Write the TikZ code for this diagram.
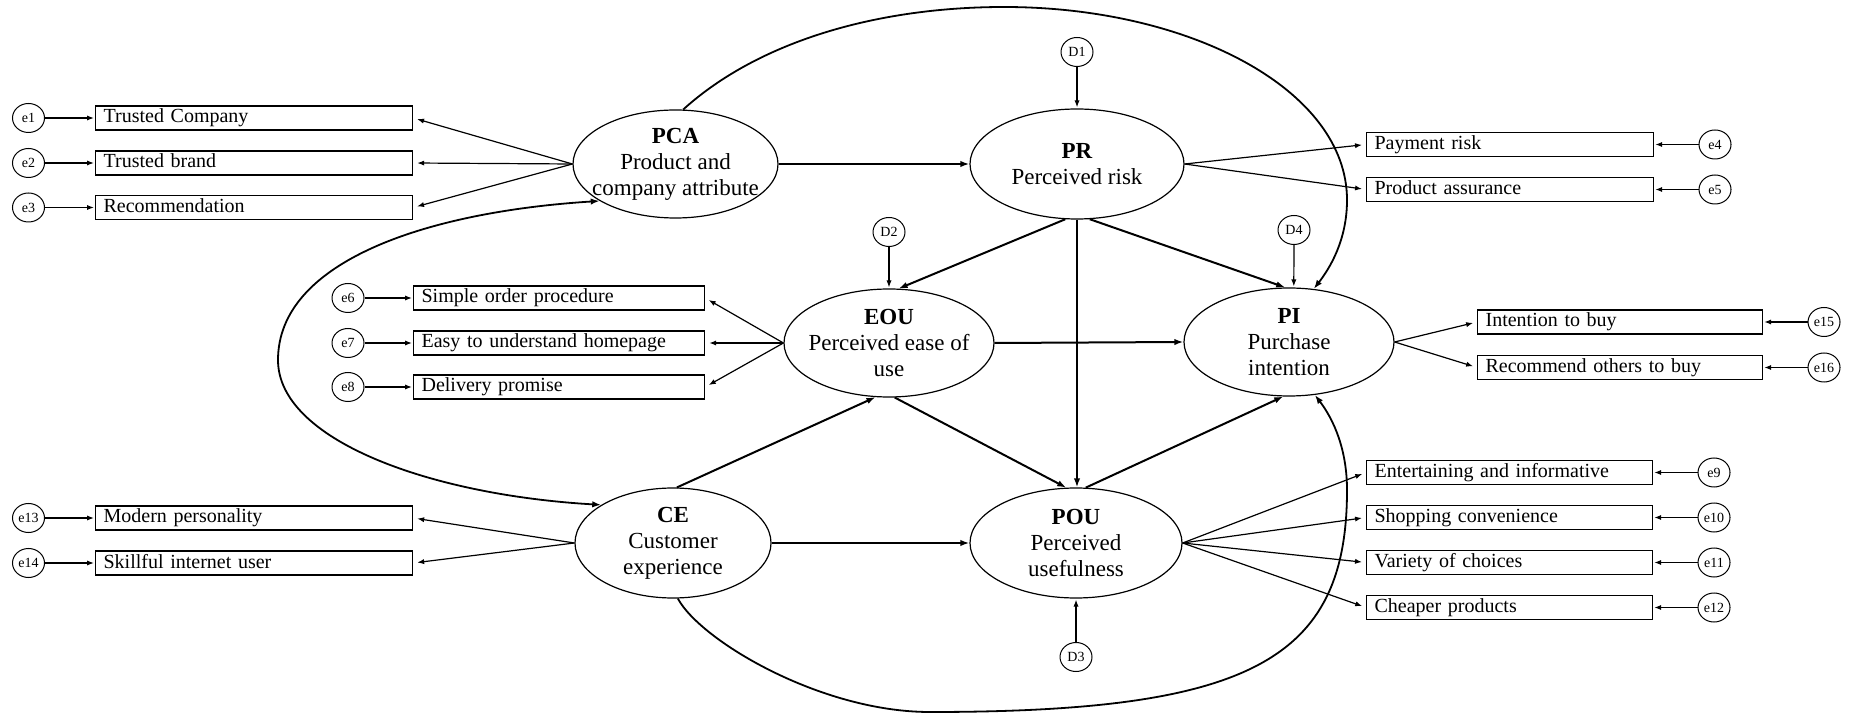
\documentclass[tikz,border=0pt]{standalone}
\usepackage{fontspec}
\setmainfont{Liberation Serif}
\usetikzlibrary{arrows.meta,shapes.geometric}
\begin{document}
\begin{tikzpicture}[x=0.5pt,y=-0.5pt,
  latent/.style={draw, ellipse, inner sep=0pt, line width=0.6pt},
  lattext/.style={align=center, font=\fontsize{11.5}{13}\selectfont, inner sep=0pt},
  ind/.style={draw, rectangle, line width=0.6pt, minimum height=12pt,
    inner ysep=0pt, inner xsep=4pt, align=left, text width=#1,
    text height=7pt, text depth=2pt,
    font=\fontsize{10}{12}\selectfont, anchor=west},
  err/.style={draw, ellipse, minimum width=16pt, minimum height=14.5pt,
    inner sep=0pt, line width=0.5pt, font=\fontsize{7}{8}\selectfont},
  load/.style={line width=0.6pt, -{Latex[length=3.5pt,width=2.6pt]}, shorten >=2pt},
  erra/.style={line width=0.6pt, -{Latex[length=3.5pt,width=2.6pt]}, shorten >=0.5pt},
  path/.style={line width=1pt, -{Latex[length=4.5pt,width=3.2pt]}},
  cov/.style={line width=0.9pt},
  tip/.style={-{Latex[length=4.5pt,width=3.2pt]}},
]
\useasboundingbox (0,0) rectangle (1856,715);

% latent constructs
\node[latent, minimum width=102.5pt, minimum height=54pt] (PCA) at (675.5,164) {};
\node[lattext] (PCAt) at (PCA) {\textbf{PCA}\\Product and\\company attribute};
\node[latent, minimum width=107pt, minimum height=55pt] (PR) at (1077,164) {};
\node[lattext] (PRt) at (PR) {\textbf{PR}\\Perceived risk};
\node[latent, minimum width=105pt, minimum height=54pt] (EOU) at (889,343) {};
\node[lattext] (EOUt) at (EOU) {\textbf{EOU}\\Perceived ease of\\use};
\node[latent, minimum width=105pt, minimum height=54pt] (PI) at (1289,342) {};
\node[lattext] (PIt) at (PI) {\textbf{PI}\\Purchase\\intention};
\node[latent, minimum width=98pt, minimum height=55pt] (CE) at (673,543) {};
\node[lattext] (CEt) at (CE) {\textbf{CE}\\Customer\\experience};
\node[latent, minimum width=106pt, minimum height=55pt] (POU) at (1076,543) {};
\node[lattext] (POUt) at (POU) {\textbf{POU}\\Perceived\\usefulness};

% disturbances
\node[err] (D1) at (1077,52) {D1};
\node[err] (D2) at (889,232) {D2};
\node[err] (D4) at (1294,230) {D4};
\node[err] (D3) at (1076,657) {D3};

% indicators of PCA
\node[ind=150.5pt] (tc)  at (95,118)   {Trusted Company};
\node[ind=150.5pt] (tb)  at (95,163)   {Trusted brand};
\node[ind=150.5pt] (rec) at (95,207.5) {Recommendation};
\node[err] (e1) at (28.5,118)   {e1};
\node[err] (e2) at (28.5,163)   {e2};
\node[err] (e3) at (28.5,207.5) {e3};

% indicators of CE
\node[ind=150.5pt] (mp) at (95,518) {Modern personality};
\node[ind=150.5pt] (si) at (95,563) {Skillful internet user};
\node[err] (e13) at (28.5,518) {e13};
\node[err] (e14) at (28.5,563) {e14};

% indicators of EOU
\node[ind=137.5pt] (so) at (413,298) {Simple order procedure};
\node[ind=137.5pt] (eh) at (413,343) {Easy to understand homepage};
\node[ind=137.5pt] (dp) at (413,387) {Delivery promise};
\node[err] (e6) at (348,298) {e6};
\node[err] (e7) at (348,343) {e7};
\node[err] (e8) at (348,387) {e8};

% indicators of PR
\node[ind=135.5pt] (pay) at (1366,144.5) {Payment risk};
\node[ind=135.5pt] (pas) at (1366,189.5) {Product assurance};
\node[err] (e4) at (1715,144.5) {e4};
\node[err] (e5) at (1715,189.5) {e5};

% indicators of POU
\node[ind=135pt] (ei) at (1366,472.5) {Entertaining and informative};
\node[ind=135pt] (sc) at (1366,517.5) {Shopping convenience};
\node[ind=135pt] (vc) at (1366,562.5) {Variety of choices};
\node[ind=135pt] (cp) at (1366,607.5) {Cheaper products};
\node[err] (e9)  at (1714,472.5) {e9};
\node[err] (e10) at (1714,517.5) {e10};
\node[err] (e11) at (1714,562.5) {e11};
\node[err] (e12) at (1714,607.5) {e12};

% indicators of PI
\node[ind=134.5pt] (ib) at (1477,322) {Intention to buy};
\node[ind=134.5pt] (ro) at (1477,367.5) {Recommend others to buy};
\node[err] (e15) at (1824,322) {e15};
\node[err] (e16) at (1824,367.5) {e16};

% measurement paths
\foreach \b in {tc,tb,rec} \draw[load] (PCA.west) -- (\b.east);
\foreach \b in {mp,si} \draw[load] (CE.west) -- (\b.east);
\foreach \b in {so,eh,dp} \draw[load] (EOU.west) -- (\b.east);
\foreach \b in {pay,pas} \draw[load] (PR.east) -- (\b.west);
\foreach \b in {ei,sc,vc,cp} \draw[load] (POU.east) -- (\b.west);
\foreach \b in {ib,ro} \draw[load] (PI.east) -- (\b.west);

% error terms
\foreach \e/\b in {e1/tc,e2/tb,e3/rec,e13/mp,e14/si,e6/so,e7/eh,e8/dp,
                   e4/pay,e5/pas,e9/ei,e10/sc,e11/vc,e12/cp,e15/ib,e16/ro}
  \draw[erra] (\e) -- (\b);

% disturbances to constructs
\draw[erra] (D1.south) -- (D1.south |- PR.north);
\draw[erra] (D2.south) -- (D2.south |- EOU.north);
\draw[erra] (D4.south) -- (PI.85);
\draw[erra] (D3.north) -- (D3.north |- POU.south);

% structural paths
\draw[path] (PCA.east) -- (PR.west);
\draw[path] (PR.258) -- (EOU.80);
\draw[path] (PR.south) -- (PR.south |- POU.north);
\draw[path] (PR.283) -- (PI.94);
\draw[path] (EOU.east) -- (PI.west);
\draw[path] (CE.86) -- (EOU.256);
\draw[path] (EOU.276) -- (POU.100);
\draw[path] (CE.east) -- (POU.west);
\draw[path] (POU.80) -- (PI.264);

% curved paths
\draw[cov, tip] (PCA.82) .. controls (760,40) and (880,7) .. (1004,7)
  .. controls (1190,7) and (1347,90) .. (1347,200)
  .. controls (1347,240) and (1330,268) .. (PI.65);
\draw[cov, {Latex[length=4.5pt,width=3.2pt]}-{Latex[length=4.5pt,width=3.2pt]}]
  (PCA.206) .. controls (425,212) and (278,262) .. (278,360)
  .. controls (278,440) and (430,495) .. (CE.152);
\draw[cov, tip] (CE.275) .. controls (700,640) and (820,712) .. (930,712)
  .. controls (1250,712) and (1347,660) .. (1347,490)
  .. controls (1347,450) and (1334,420) .. (PI.296);
\end{tikzpicture}
\end{document}
